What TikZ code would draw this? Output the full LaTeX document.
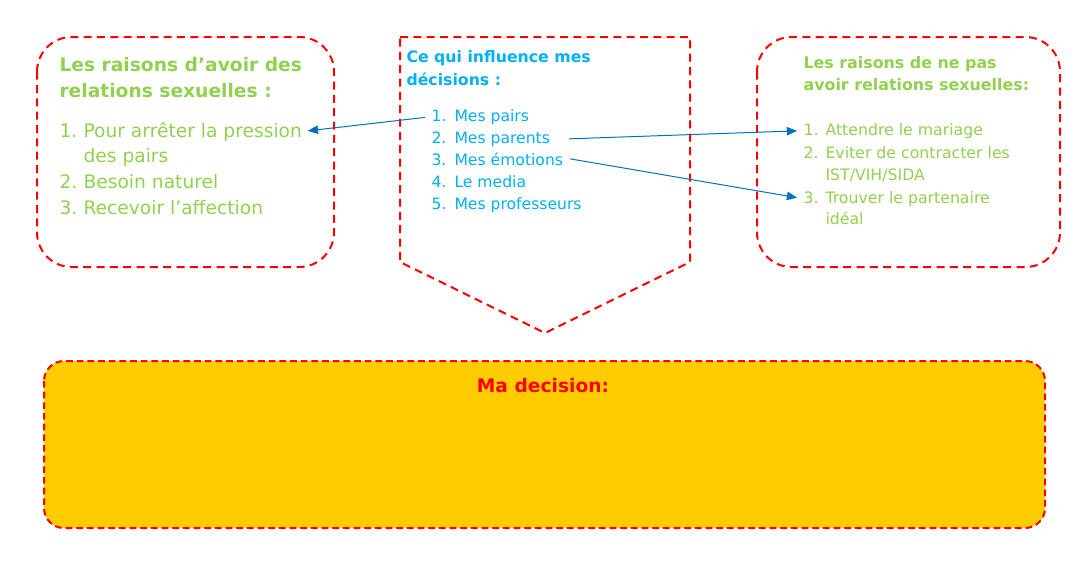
\documentclass[tikz,border=0pt]{standalone}
\usepackage{fontspec}
\setmainfont{DejaVu Sans}
\usetikzlibrary{positioning,arrows}
\definecolor{vert}{HTML}{92D050}
\definecolor{bleu}{HTML}{00B0F0}
\definecolor{fleche}{HTML}{0070C0}
\definecolor{jaune}{HTML}{FFCC00}
\tikzstyle{cadre}=[draw=red, line width=1.5pt, dash pattern=on 6pt off 4pt]
\tikzstyle{titre}=[anchor=base west, inner sep=0pt]
\tikzstyle{ligne}=[anchor=base west, inner sep=0pt]
\newcommand\numero[2]{\makebox[#1][l]{#2}}
\newcommand\taille[1]{\fontsize{#1}{1.2\dimexpr#1pt\relax}\selectfont}

\begin{document}
\begin{tikzpicture}[x=0.75pt, y=-0.75pt, thick,
	fl/.style = {-triangle 45, fleche, line width=0.75pt}]
	\useasboundingbox (0,0) rectangle (1088,564);

	% les trois cadres et le cadre de la decision
	\draw[cadre, rounded corners=26pt] (37,37) rectangle (334,267);
	\draw[cadre] (400,37) -- (690,37) -- (690,262) -- (545,333) -- (400,262) -- cycle;
	\draw[cadre, rounded corners=26pt] (757,37) rectangle (1060,267);
	\draw[cadre, dash pattern=on 5pt off 3pt, fill=jaune, rounded corners=15pt] (44,361) rectangle (1045,528);

	% raisons d'avoir des relations
	\begin{scope}[vert, font=\taille{14}]
	\node[titre, font=\taille{14}\bfseries] (R0a) at (59,71) {Les raisons d’avoir des};
	\node[titre, font=\taille{14}\bfseries] (R0b) at (59,97) {relations sexuelles :};
	\node[ligne] (R1a) at (59,137) {\numero{18pt}{1.}Pour arrêter la pression};
	\node[ligne] (R1b) at (83,162) {des pairs};
	\node[ligne] (R2) at (59,188) {\numero{18pt}{2.}Besoin naturel};
	\node[ligne] (R3) at (59,214) {\numero{18pt}{3.}Recevoir l’affection};
	\end{scope}

	% ce qui influence
	\begin{scope}[bleu, font=\taille{11.7}]
	\node[titre, font=\taille{11.8}\bfseries] (I0a) at (406,62) {Ce qui influence mes};
	\node[titre, font=\taille{11.8}\bfseries] (I0b) at (406,85) {décisions :};
	\node[ligne] (I1) at (431,121) {\numero{17.25pt}{1.}Mes pairs};
	\node[ligne] (I2) at (431,143) {\numero{17.25pt}{2.}Mes parents};
	\node[ligne] (I3) at (431,165) {\numero{17.25pt}{3.}Mes émotions};
	\node[ligne] (I4) at (431,187) {\numero{17.25pt}{4.}Le media};
	\node[ligne] (I5) at (431,209) {\numero{17.25pt}{5.}Mes professeurs};
	\end{scope}

	% raisons de ne pas avoir
	\begin{scope}[vert, font=\taille{11.8}]
	\node[titre, font=\taille{11.9}\bfseries] (N0a) at (803,68) {Les raisons de ne pas};
	\node[titre, font=\taille{11.9}\bfseries] (N0b) at (803,90) {avoir relations sexuelles:};
	\node[ligne] (N1) at (803,135) {\numero{16.5pt}{1.}Attendre le mariage};
	\node[ligne] (N2a) at (803,158) {\numero{16.5pt}{2.}Eviter de contracter les};
	\node[ligne] (N2b) at (825,180) {IST/VIH/SIDA};
	\node[ligne] (N3a) at (803,203) {\numero{16.5pt}{3.}Trouver le partenaire};
	\node[ligne] (N3b) at (825,224) {idéal};
	\end{scope}

	\node[anchor=base, inner sep=0pt, red, font=\taille{14}\bfseries] (D) at (543,392) {Ma decision:};

	\draw (I1.west) edge[fl, shorten <=4.5pt, shorten >=4pt] (R1a.east);
	\draw ([xshift=14pt]I2.east) edge[fl, shorten >=4.5pt] (N1.west);
	\draw ([xshift=5pt]I3.east) edge[fl, shorten >=4.5pt] (N3a.west);
\end{tikzpicture}
\end{document}
